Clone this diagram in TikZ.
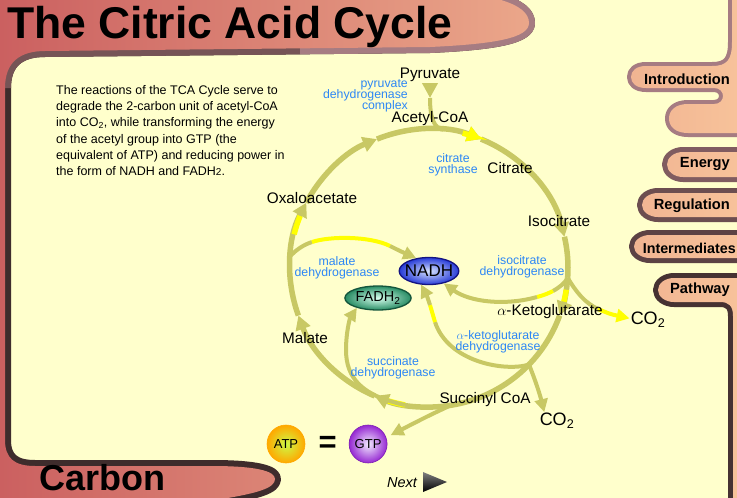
\documentclass[tikz,border=0pt]{standalone}
\usepackage{fontspec}
\setmainfont{Liberation Sans}
\usetikzlibrary{shapes, positioning, arrows.meta, calc}
\definecolor{panelColor}{RGB}{255,255,204}
\definecolor{salmonLeft}{RGB}{203,96,96}
\definecolor{salmonRight}{RGB}{247,194,154}
\definecolor{rimDark}{RGB}{62,44,44}
\definecolor{rimMid}{RGB}{118,84,86}
\definecolor{rimLight}{RGB}{166,124,130}
\definecolor{rimTabA}{RGB}{128,92,96}
\definecolor{rimTabB}{RGB}{108,78,80}
\definecolor{rimTabC}{RGB}{92,66,68}
\definecolor{rimTabD}{RGB}{70,50,50}
\definecolor{cycColor}{RGB}{200,200,100}
\definecolor{hiColor}{RGB}{255,255,0}
\definecolor{enzColor}{RGB}{45,135,245}
\definecolor{nadhIn}{RGB}{215,228,255}
\definecolor{nadhOut}{RGB}{40,60,215}
\definecolor{nadhRim}{RGB}{20,20,130}
\definecolor{fadhIn}{RGB}{215,255,238}
\definecolor{fadhOut}{RGB}{40,140,100}
\definecolor{fadhRim}{RGB}{20,85,60}
\definecolor{atpIn}{RGB}{205,250,70}
\definecolor{atpOut}{RGB}{255,168,0}
\definecolor{gtpIn}{RGB}{242,235,255}
\definecolor{gtpOut}{RGB}{150,40,210}
\definecolor{gtpRim}{RGB}{125,30,180}
\tikzstyle{rim}=[line width=10pt, line join=round]
\tikzstyle{cyc}=[line width=5.5pt, draw=cycColor]
\tikzstyle{cycArrow}=[cyc, -{Triangle[length=14pt, width=15pt]}]
\tikzstyle{hi}=[line width=5.5pt, draw=hiColor]
\tikzstyle{branch}=[line width=4pt, draw=cycColor]
\tikzstyle{branchArrow}=[branch, -{Triangle[length=13pt, width=13pt]}]
\tikzstyle{metab}=[font=\fontsize{15.3}{15.3}\selectfont, inner sep=1pt]
\tikzstyle{co2Label}=[font=\fontsize{18}{18}\selectfont, inner sep=1pt]
\tikzstyle{enzyme}=[font={\fontsize{12.3}{10.8}\selectfont\lineskiplimit=-6pt}, text=enzColor,
align=center, inner sep=0pt]
\tikzstyle{tabLabel}=[font=\bfseries\fontsize{14.7}{14.7}\selectfont, inner sep=0pt]
\tikzstyle{nadhBox}=[ellipse, draw=nadhRim, line width=1.3pt, inner color=nadhIn, outer color=nadhOut,
minimum width=58pt, minimum height=27pt, inner xsep=-3pt, inner ysep=0pt, font=\fontsize{17}{17}\selectfont]
\tikzstyle{fadhBox}=[ellipse, draw=fadhRim, line width=1.3pt, inner color=fadhIn, outer color=fadhOut,
minimum width=60pt, minimum height=24pt, inner xsep=1pt, inner ysep=0pt, font=\fontsize{14.5}{14.5}\selectfont]
\tikzstyle{ntpBall}=[circle, minimum size=38pt, inner sep=0pt, line width=0.6pt, font=\fontsize{13}{13}\selectfont]
\newcommand{\leftRegion}{(-10,-10) -- (425,-10) .. controls (490,-7) and (529,3) .. (529,23)
  .. controls (529,38) and (495,44) .. (430,47) -- (45,51) .. controls (20,51) and (5,62) .. (5,88)
  -- (5,440) .. controls (5,458) and (14,466) .. (35,466) -- (212,466)
  .. controls (256,466) and (275,471) .. (275,479) .. controls (275,488) and (258,493) .. (222,499)
  -- (-10,505) -- cycle}
\newcommand{\introRegion}{(770,-10) -- (732,-10) -- (732,42) .. controls (732,60) and (727,66) .. (712,66)
  -- (646,66) .. controls (636,66) and (631,71) .. (631,77) .. controls (631,83) and (636,88) .. (646,88)
  -- (714,88) .. controls (726,88) and (726,104) .. (714,104) -- (688,104)
  .. controls (676,104) and (669,110) .. (669,118.5) .. controls (669,127) and (676,133) .. (688,133)
  -- (770,133) -- cycle}
\newcommand{\tabRegion}[3]{(770,#1) -- (#3+16,#1)
  arc[start angle=270, end angle=90, x radius=16, y radius={(#2-#1)/2}] -- (770,#2) -- cycle}
\newcommand{\pathwayRegion}{(770,278) -- (674,278) arc[start angle=270, end angle=90, x radius=16, y radius=12]
  -- (720,302) .. controls (729,302) and (733,306) .. (733,316) -- (733,510) -- (770,510) -- cycle}
\begin{document}
\begin{tikzpicture}[x=1pt, y=-1pt]
  \useasboundingbox (0,0) rectangle (737,498);
  \clip (0,0) rectangle (737,498);
  \fill[panelColor] (0,0) rectangle (737,498);
  \draw[rim, draw=rimDark, line width=12pt] \leftRegion;
  \draw[rim, draw=rimMid, line width=12pt] (300,48.35) -- (45,51) .. controls (20,51) and (5,62) .. (5,88);
  \draw[rim, draw=rimLight, line width=12pt] (425,-10) .. controls (490,-7) and (529,3) .. (529,23)
    .. controls (529,38) and (495,44) .. (430,47) -- (300,48.35);
  \draw[rim, draw=rimLight, line width=8pt] \introRegion;
  \draw[rim, draw=rimTabA] \tabRegion{152}{177}{667};
  \draw[rim, draw=rimTabB] \tabRegion{193}{217}{642};
  \draw[rim, draw=rimTabC] \tabRegion{235}{258}{634};
  \draw[rim, draw=rimTabD] \pathwayRegion;
  \begin{scope}
    \clip \leftRegion \introRegion \tabRegion{152}{177}{667} \tabRegion{193}{217}{642}
      \tabRegion{235}{258}{634} \pathwayRegion;
    \shade[left color=salmonLeft, right color=salmonRight] (0,0) rectangle (737,498);
  \end{scope}

  \node(title) [anchor=base west, inner sep=0pt, font=\bfseries\fontsize{44.5}{50}\selectfont]
    at (7,38.5) {The Citric Acid Cycle};
  \node(carbon) [anchor=base west, inner sep=0pt, font=\bfseries\fontsize{36}{40}\selectfont]
    at (39,490.5) {Carbon};
  \node(introTab) [tabLabel, anchor=east] at (730,79) {Introduction};
  \node(energyTab) [tabLabel, anchor=east] at (730,164) {Energy};
  \node(regulationTab) [tabLabel, anchor=east] at (730,206) {Regulation};
  \node(intermediatesTab) [tabLabel, anchor=east, font=\bfseries\fontsize{14.3}{14.3}\selectfont]
    at (736,248) {Intermediates};
  \node(pathwayTab) [tabLabel, anchor=east] at (730,290) {Pathway};
  \node(introText) [anchor=north west, inner sep=0pt, align=left, font=\fontsize{12.5}{16.3}\selectfont]
    at (56,85) {The reactions of the TCA Cycle serve to\\
    degrade the 2-carbon unit of acetyl-CoA\\
    into CO\textsubscript{2}, while transforming the energy\\
    of the acetyl group into GTP (the\\
    equivalent of ATP) and reducing power in\\
    the form of NADH and FADH{\fontsize{10}{10}\selectfont 2}.};

  \coordinate (cycCenter) at (429,268);
  \coordinate (cyc4) at ($(cycCenter)+(4:139)$);
  \coordinate (cyc9) at ($(cycCenter)+(9:139)$);
  \coordinate (cyc20) at ($(cycCenter)+(20:139)$);
  \coordinate (cyc44) at ($(cycCenter)+(44:139)$);
  \coordinate (cyc81) at ($(cycCenter)+(81:139)$);
  \coordinate (cyc100) at ($(cycCenter)+(100:139)$);
  \coordinate (cyc113) at ($(cycCenter)+(113:139)$);
  \coordinate (cyc160) at ($(cycCenter)+(160:139)$);
  \coordinate (cyc185) at ($(cycCenter)+(185:139)$);
  \coordinate (cyc194) at ($(cycCenter)+(194:139)$);
  \coordinate (cyc208) at ($(cycCenter)+(208:139)$);
  \coordinate (cyc248) at ($(cycCenter)+(248:139)$);
  \coordinate (cyc276) at ($(cycCenter)+(276:139)$);
  \coordinate (cyc284) at ($(cycCenter)+(284:139)$);
  \coordinate (cyc292) at ($(cycCenter)+(292:139)$);
  \coordinate (cyc347) at ($(cycCenter)+(347:139)$);
  \draw[cycArrow] (cyc4) arc[start angle=4, end angle=20, radius=139];
  \draw[cyc] (cyc20) arc[start angle=20, end angle=81, radius=139];
  \draw[cycArrow] (cyc81) arc[start angle=81, end angle=113, radius=139];
  \draw[cycArrow] (cyc113) arc[start angle=113, end angle=160, radius=139];
  \draw[cycArrow] (cyc160) arc[start angle=160, end angle=208, radius=139];
  \draw[cycArrow] (cyc208) arc[start angle=208, end angle=248, radius=139];
  \draw[cycArrow] (cyc248) arc[start angle=248, end angle=292, radius=139];
  \draw[cycArrow] (cyc292) arc[start angle=292, end angle=347, radius=139];
  \draw[cyc] (cyc347) arc[start angle=347, end angle=364, radius=139];
  \draw[hi] (cyc9) arc[start angle=9, end angle=14, radius=139];
  \draw[hi] (cyc100) arc[start angle=100, end angle=107, radius=139];
  \draw[hi] (cyc194) arc[start angle=194, end angle=202, radius=139];
  \draw[hi, -{Triangle[length=14pt, width=15pt]}] (cyc284) arc[start angle=284, end angle=292, radius=139];

  \node(pyr) [metab] at (430,75) {Pyruvate};
  \node(nadh) [nadhBox] at (429,271) {NADH};
  \node(fadh) [fadhBox] at (378,298) {FADH\textsubscript{2}};
  \node(co2a) [co2Label] at (648,320) {CO\textsubscript{2}};
  \node(co2b) [co2Label] at (557,421) {CO\textsubscript{2}};
  \node(atp) [ntpBall, inner color=atpIn, outer color=atpOut, draw=atpOut] at (286,444) {ATP};
  \node(eq) [right=13pt of atp, inner sep=0pt, font=\bfseries\fontsize{31}{31}\selectfont] {=};
  \node(gtp) [ntpBall, inner color=gtpIn, outer color=gtpOut, draw=gtpRim, right=12pt of eq] {GTP};

  \coordinate (pyrTip) at (430,98);
  \draw[branchArrow, -{Triangle[length=15pt, width=15pt]}] (pyr.south) -- (pyrTip);
  \draw[branch] (pyrTip) .. controls (430,118) and (434,128.5) .. (cyc276);
  \coordinate (mdhA) at (312,242);
  \coordinate (mdhB) at (390,246);
  \draw[branch] (cyc185) .. controls (296,250) and (303,245) .. (mdhA);
  \draw[branch, draw=hiColor] (mdhA) .. controls (330,236) and (370,236) .. (mdhB);
  \draw[branchArrow] (mdhB) .. controls (400,251) .. (nadh.135);
  \coordinate (icdhA) at (553,291);
  \coordinate (icdhB) at (537,297);
  \draw[branch] (cyc4) .. controls (565,283) and (560,287) .. (icdhA);
  \draw[branch, draw=hiColor] (icdhA) .. controls (548,293.5) and (543,295.5) .. (icdhB);
  \draw[branchArrow] (icdhB) .. controls (505,306) and (470,302) .. (nadh.-40);
  \coordinate (co2A) at (598,309);
  \draw[branch] (cyc4) .. controls (576,292) and (585,303) .. (co2A);
  \draw[branchArrow, draw=hiColor] (co2A) .. controls (610,314) .. (co2a.175);
  \coordinate (akgdhA) at (435,322);
  \coordinate (akgdhB) at (430,305);
  \draw[branch] (cyc44) .. controls (505,372) and (448,362) .. (akgdhA);
  \draw[branch, draw=hiColor] (akgdhA) .. controls (432,314) .. (akgdhB);
  \draw[branchArrow] (akgdhB) .. controls (427,296) .. (nadh.-120);
  \draw[branchArrow] (cyc44) .. controls (536,382) and (540,395) .. (co2b.145);
  \draw[branchArrow, shorten >=5pt] (cyc81) .. controls (428,416) .. (gtp.20);
  \draw[branchArrow] (cyc100) .. controls (362,396) and (346,378) .. (346,350)
    .. controls (346,332) and (350,318) .. (fadh.-155);

  \node(acoa) [metab] at (430,119) {Acetyl-CoA};
  \node(cit) [metab] at (510,168) {Citrate};
  \node(iso) [metab] at (559,221) {Isocitrate};
  \node(akg) [metab] at (550,312) {$\alpha$-Ketoglutarate};
  \node(succ) [metab] at (485,400) {Succinyl CoA};
  \node(mal) [metab] at (305,338) {Malate};
  \node(oxa) [metab] at (312,198) {Oxaloacetate};
  \node(pdh) [enzyme, align=right, anchor=east] at (408,96) {pyruvate\\dehydrogenase\\complex};
  \node(cs) [enzyme] at (453,165) {citrate\\synthase};
  \node(mdh) [enzyme] at (337,268) {malate\\dehydrogenase};
  \node(icdh) [enzyme] at (522,267) {isocitrate\\dehydrogenase};
  \node(akgdh) [enzyme] at (498,342) {$\alpha$-ketoglutarate\\dehydrogenase};
  \node(sdh) [enzyme] at (393,368) {succinate\\dehydrogenase};
  \node(next) [inner sep=0pt, font=\itshape\fontsize{14.5}{14.5}\selectfont] at (402,483) {Next};
  \shade[top color=black!50, bottom color=black] (423,472) -- (447,482) -- (423,492) -- cycle;
\end{tikzpicture}
\end{document}
